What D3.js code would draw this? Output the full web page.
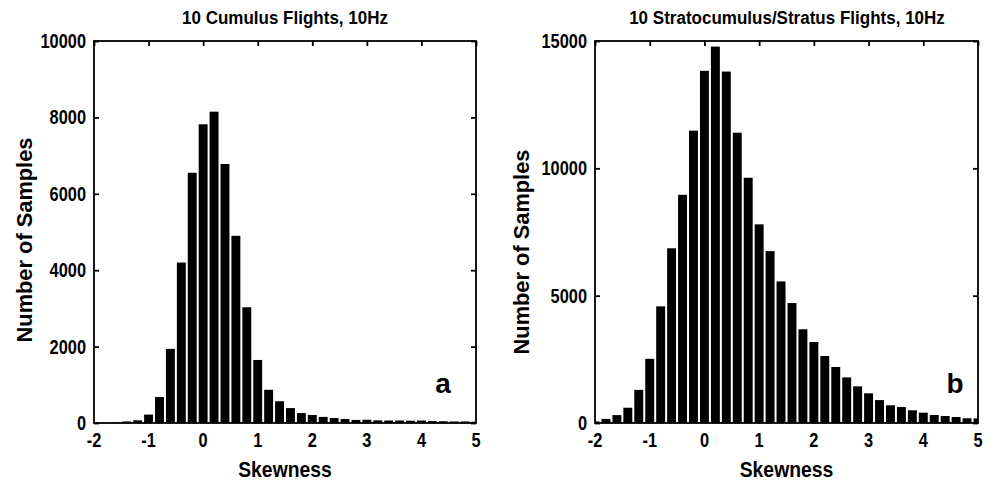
<!DOCTYPE html>
<html><head><meta charset="utf-8">
<script src="https://cdn.jsdelivr.net/npm/d3@7"></script>
<style>
body{margin:0;background:#fff;}
text{font-family:"Liberation Sans Narrow","Arial Narrow","Liberation Sans",Arial,sans-serif;font-weight:bold;fill:#000;}
</style></head><body>
<svg id="c" width="997" height="486"></svg>
<script>
const binCenters = [-2.0,-1.8,-1.6,-1.4,-1.2,-1.0,-0.8,-0.6,-0.4,-0.2,0.0,0.2,0.4,0.6,0.8,1.0,1.2,1.4,1.6,1.8,2.0,2.2,2.4,2.6,2.8,3.0,3.2,3.4,3.6,3.8,4.0,4.2,4.4,4.6,4.8,5.0];
const cumulusCounts = [0,5,15,40,70,220,680,1940,4200,6550,7820,8150,6780,4900,3030,1650,870,570,390,260,210,160,130,105,80,85,70,65,65,60,65,50,45,40,40,35];
const stratusCounts = [60,160,310,600,1300,2520,4580,6860,8960,11480,13830,14780,13800,11400,9630,7800,6750,5560,4710,3680,3180,2630,2200,1790,1440,1165,900,695,630,500,405,315,275,235,185,180];
const xTicks = [-2,-1,0,1,2,3,4,5];
const cumulusYTicks = [0,2000,4000,6000,8000,10000];
const stratusYTicks = [0,5000,10000,15000];

const svg = d3.select("#c");
const binWidth = 0.2;

function ctext(parent, x, y, str, size, sx, anchor, rot){
  return parent.append("text")
    .attr("transform",`translate(${x},${y})${rot?` rotate(${rot})`:""} scale(${sx},1)`)
    .attr("text-anchor",anchor||"middle").style("font-size",size+"px").text(str);
}

function panel(opts){
  const {x0,x1,y0,y1,counts,yMax,yTicks,title,letter,titleX,ylabX,ylabY,letterX} = opts;
  const g = svg.append("g");
  const x = d3.scaleLinear().domain([-2,5]).range([x0,x1]);
  const y = d3.scaleLinear().domain([0,yMax]).range([y1,y0]);
  const clipId = "clip"+letter;
  svg.append("clipPath").attr("id",clipId).append("rect")
    .attr("x",x0).attr("y",y0).attr("width",x1-x0).attr("height",y1-y0);
  g.append("g").attr("clip-path",`url(#${clipId})`)
    .selectAll("rect").data(binCenters.map((c,i)=>({c,v:counts[i]}))).join("rect")
    .attr("x",d=>x(d.c-binWidth/2)+1)
    .attr("width",d=>x(d.c+binWidth/2)-x(d.c-binWidth/2)-2)
    .attr("y",d=>y(d.v))
    .attr("height",d=>y1-y(d.v))
    .attr("fill","#000");
  g.append("rect").attr("x",x0).attr("y",y0).attr("width",x1-x0).attr("height",y1-y0)
    .attr("fill","none").attr("stroke","#000").attr("stroke-width",1.8);
  const top = g.append("g").attr("transform",`translate(0,${y0})`)
    .call(d3.axisBottom(x).tickValues(xTicks).tickSize(5).tickFormat(""));
  const leftIn = g.append("g").attr("transform",`translate(${x0},0)`)
    .call(d3.axisRight(y).tickValues(yTicks).tickSize(5).tickFormat(""));
  const rightIn = g.append("g").attr("transform",`translate(${x1},0)`)
    .call(d3.axisLeft(y).tickValues(yTicks).tickSize(5).tickFormat(""));
  [top,leftIn,rightIn].forEach(a=>{
    a.select(".domain").remove();
    a.selectAll("line").attr("stroke","#000").attr("stroke-width",1.8);
  });
  const fmt = d3.format("d");
  xTicks.forEach(t=>ctext(g, x(t), 447, fmt(t).replace("\u2212","-"), 19.5, 0.84, "middle"));
  yTicks.forEach(t=>ctext(g, x0-8, y(t)+7, fmt(t), 19.5, 0.84, "end"));
  ctext(g, titleX, 24, title, 18.5, 0.92, "middle");
  ctext(g, (x0+x1)/2, 477, "Skewness", 22, 0.88, "middle");
  ctext(g, ylabX, ylabY, "Number of Samples", 22.5, 0.97, "middle", -90);
  ctext(g, letterX, 393, letter, 28, 1, "middle");
}

panel({x0:94,x1:476,y0:41,y1:423,counts:cumulusCounts,yMax:10000,yTicks:cumulusYTicks,
  title:"10 Cumulus Flights, 10Hz",letter:"a",titleX:285,ylabX:32,ylabY:240,letterX:443});
panel({x0:595,x1:978,y0:41,y1:423,counts:stratusCounts,yMax:15000,yTicks:stratusYTicks,
  title:"10 Stratocumulus/Stratus Flights, 10Hz",letter:"b",titleX:787,ylabX:529,ylabY:252,letterX:955});
</script></body></html>
